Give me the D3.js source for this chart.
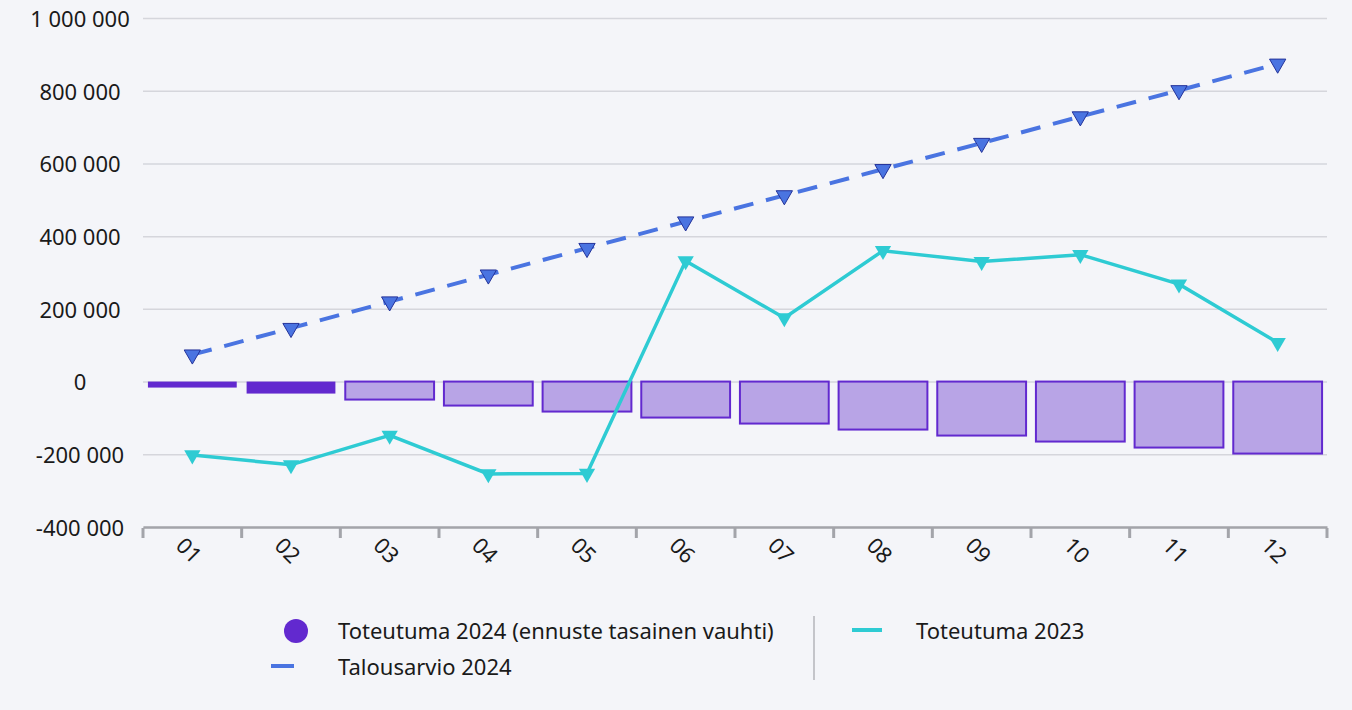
<html>
<head>
  <meta charset="utf-8">
  <title>Toteutuma</title>
  <script src="https://d3js.org/d3.v7.min.js"></script>
  <style>
    body { margin: 0; background: #f4f5f9; }
    text { font-family: "Noto Sans", "Open Sans", sans-serif; }
  </style>
</head>
<body>
<div id="chart"></div>
<script>
// data
var months = ["01","02","03","04","05","06","07","08","09","10","11","12"];
var toteutuma2024 = [-16500, -33000, -49500, -66000, -82500, -99000, -115500, -132000, -148500, -165000, -181500, -198000];
var actualMonths = 2; // first two bars are actual, rest is forecast
var talousarvio2024 = [74000, 147000, 220000, 294000, 367000, 440000, 512000, 584000, 656000, 729000, 801000, 874000];
var toteutuma2023 = [-202000, -229000, -148000, -254000, -253000, 332000, 175000, 360000, 330000, 349000, 268000, 107000];
var yTicks = [-400000, -200000, 0, 200000, 400000, 600000, 800000, 1000000];

var W = 1352, H = 710;
var margin = {top: 18, right: 25, bottom: 183, left: 143},
    width = W - margin.left - margin.right,
    height = H - margin.top - margin.bottom;

var svg = d3.select("#chart").append("svg")
    .attr("width", W).attr("height", H)
    .style("background", "#f4f5f9");

var g = svg.append("g").attr("transform", `translate(${margin.left},${margin.top})`);

var x = d3.scaleBand().domain(months).range([0, width]).paddingInner(0.1).paddingOuter(0.05);
var xb = d3.scaleBand().domain(months).range([0, width]);
var y = d3.scaleLinear().domain([-400000, 1000000]).range([height, 0]);

var fmt = function(d) { return d3.format(",")(d).replace(/,/g, " ").replace("−", "-"); };

// gridlines + y labels
var yAxis = g.append("g")
  .call(d3.axisLeft(y).tickValues(yTicks).tickSize(-width).tickFormat(fmt));
yAxis.select(".domain").remove();
yAxis.selectAll(".tick line").attr("stroke", "#d5d6dc").attr("stroke-width", 1.5);
yAxis.selectAll(".tick text").attr("x", -63).attr("text-anchor", "middle")
  .attr("dy", "0.38em").attr("font-size", 22).attr("fill", "#1a1a1a");

// bars
g.selectAll(".bar").data(toteutuma2024).enter().append("rect")
  .attr("x", (d, i) => x(months[i]))
  .attr("width", x.bandwidth())
  .attr("y", y(0))
  .attr("height", d => y(d) - y(0))
  .attr("fill", (d, i) => i < actualMonths ? "#6229cf" : "#b8a4e6")
  .attr("stroke", "#6229cf")
  .attr("stroke-width", (d, i) => i < actualMonths ? 0 : 2);

// x axis
var xAxis = g.append("g").attr("transform", `translate(0,${height})`)
  .call(d3.axisBottom(xb).tickSize(0).tickFormat(""));
xAxis.select(".domain").attr("stroke", "#a3a4aa").attr("stroke-width", 2.5);
var bounds = d3.range(months.length + 1).map(i => i * xb.step());
xAxis.selectAll(".bound").data(bounds).enter().append("line")
  .attr("x1", d => d).attr("x2", d => d).attr("y1", 1).attr("y2", 11)
  .attr("stroke", "#a3a4aa").attr("stroke-width", 3);
xAxis.selectAll(".lbl").data(months).enter().append("text")
  .attr("transform", d => `translate(${xb(d) + xb.bandwidth() / 2 + 2},${18}) rotate(45)`)
  .attr("font-size", 22).attr("fill", "#1a1a1a")
  .attr("dy", "0.7em")
  .text(d => d);

var cx = (d, i) => x(months[i]) + x.bandwidth() / 2;
var tri = d3.symbol().type(d3.symbolTriangle).size(115);

// Talousarvio 2024
g.append("path").datum(talousarvio2024)
  .attr("fill", "none").attr("stroke", "#4a74e1").attr("stroke-width", 4)
  .attr("stroke-dasharray", "20,13")
  .attr("d", d3.line().x(cx).y(d => y(d)));
g.selectAll(".tb").data(talousarvio2024).enter().append("path")
  .attr("d", tri)
  .attr("transform", (d, i) => `translate(${cx(d, i)},${y(d)}) rotate(180)`)
  .attr("fill", "#4a74e1").attr("stroke", "#24339a").attr("stroke-width", 1);

// Toteutuma 2023
g.append("path").datum(toteutuma2023)
  .attr("fill", "none").attr("stroke", "#2ecbd3").attr("stroke-width", 3.5)
  .attr("d", d3.line().x(cx).y(d => y(d)));
g.selectAll(".t23").data(toteutuma2023).enter().append("path")
  .attr("d", tri)
  .attr("transform", (d, i) => `translate(${cx(d, i)},${y(d)}) rotate(180)`)
  .attr("fill", "#2ecbd3");

// legend
var lg = svg.append("g");
lg.append("circle").attr("cx", 296).attr("cy", 631).attr("r", 12).attr("fill", "#6229cf");
lg.append("text").attr("x", 338).attr("y", 631).attr("dy", "0.35em").attr("font-size", 22).attr("fill", "#1a1a1a")
  .text("Toteutuma 2024 (ennuste tasainen vauhti)");
lg.append("line").attr("x1", 271).attr("x2", 294).attr("y1", 666).attr("y2", 666)
  .attr("stroke", "#4a74e1").attr("stroke-width", 4);
lg.append("text").attr("x", 338).attr("y", 667).attr("dy", "0.35em").attr("font-size", 22).attr("fill", "#1a1a1a")
  .text("Talousarvio 2024");
lg.append("line").attr("x1", 814).attr("x2", 814).attr("y1", 616).attr("y2", 680)
  .attr("stroke", "#c4c5ca").attr("stroke-width", 2);
lg.append("line").attr("x1", 852).attr("x2", 882).attr("y1", 630).attr("y2", 630)
  .attr("stroke", "#2ecbd3").attr("stroke-width", 4);
lg.append("text").attr("x", 916).attr("y", 631).attr("dy", "0.35em").attr("font-size", 22).attr("fill", "#1a1a1a")
  .text("Toteutuma 2023");
</script>
</body>
</html>
